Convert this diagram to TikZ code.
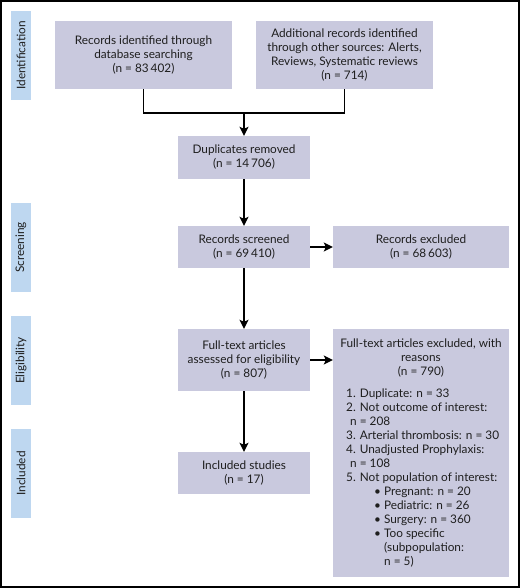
\documentclass[tikz,border=0pt]{standalone}
\usepackage{fontspec}
\setmainfont{Lato}
\usetikzlibrary{arrows.meta}
\definecolor{boxfill}{RGB}{201,201,222}
\definecolor{labfill}{RGB}{190,215,240}
\definecolor{txt}{RGB}{30,30,30}
\tikzset{
  myfont/.style={font=\fontsize{11.8}{14}\selectfont},
  flowbox/.style={draw=none,fill=boxfill,text=txt,align=center,inner sep=0pt,myfont},
  sidebox/.style={draw=none,fill=labfill,inner sep=0pt,minimum width=20pt,minimum height=89pt},
  sidetext/.style={text=txt,inner sep=0pt,rotate=90,anchor=center,myfont},
  conn/.style={line width=1.4pt,black},
  arr/.style={conn,-{Stealth[length=9pt,width=9pt,inset=2pt]}},
  plaintext/.style={text=txt,inner sep=0pt,myfont}
}
\begin{document}
\begin{tikzpicture}[x=1pt,y=-1pt]
\useasboundingbox (0,0) rectangle (520,588);
\draw[line width=1.5pt] (1,1) rectangle (519,587);
% side labels
\node[sidebox] (lid) at (21,55.5) {};
\node[sidetext] (lidt) at (lid.center) {Identification};
\node[sidebox] (lsc) at (21,247.5) {};
\node[sidetext] (lsct) at (lsc.center) {Screening};
\node[sidebox] (lel) at (21,360.5) {};
\node[sidetext] (lelt) at (lel.center) {Eligibility};
\node[sidebox] (lin) at (21,473.5) {};
\node[sidetext] (lint) at (lin.center) {Included};
% boxes
\node[flowbox,minimum width=177pt,minimum height=68pt] (b1) at (143.5,55) {Records identified through\\database searching\\(n = 83\,402)};
\node[flowbox,minimum width=177pt,minimum height=68pt] (b2) at (344.5,55) {Additional records identified\\through other sources: Alerts,\\Reviews, Systematic reviews\\(n = 714)};
\node[flowbox,minimum width=132pt,minimum height=43pt] (b3) at (244,157.5) {Duplicates removed\\(n = 14\,706)};
\node[flowbox,minimum width=132pt,minimum height=42pt] (b4) at (244,247) {Records screened\\(n = 69\,410)};
\node[flowbox,minimum width=176pt,minimum height=42pt] (b4x) at (421,247) {Records excluded\\(n = 68\,603)};
\node[flowbox,minimum width=132pt,minimum height=62pt] (b5) at (244,360) {Full-text articles\\assessed for eligibility\\(n = 807)};
\node[flowbox,minimum width=176pt,minimum height=248pt] (b5x) at (421,453) {};
\node[plaintext,align=center,anchor=north] (b5xt) at (421,339) {Full-text articles excluded, with\\reasons\\(n = 790)};
\node[plaintext,align=left,anchor=north west] (b5xl) at (346,389) {1. Duplicate: n = 33\\
2. Not outcome of interest:\\
\hspace*{4pt}n = 208\\
3. Arterial thrombosis: n = 30\\
4. Unadjusted Prophylaxis:\\
\hspace*{4pt}n = 108\\
5. Not population of interest:\\
\hspace*{28pt}\textbullet\ Pregnant: n = 20\\
\hspace*{28pt}\textbullet\ Pediatric: n = 26\\
\hspace*{28pt}\textbullet\ Surgery: n = 360\\
\hspace*{28pt}\textbullet\ Too specific\\
\hspace*{38pt}(subpopulation:\\
\hspace*{38pt}n = 5)};
\node[flowbox,minimum width=132pt,minimum height=42pt] (b6) at (244,473) {Included studies\\(n = 17)};
% connectors
\coordinate (j) at (244,113);
\draw[conn] (b1.south) |- (j);
\draw[conn] (b2.south) |- (j);
\draw[arr] (j) -- (b3.north);
\draw[arr] (b3.south) -- (b4.north);
\draw[arr] (b4.east) -- (b4x.west);
\draw[arr] (b4.south) -- (b5.north);
\draw[arr] (b5.east) -- (b5x.west |- b5.east);
\draw[arr] (b5.south) -- (b6.north);
\end{tikzpicture}
\end{document}
